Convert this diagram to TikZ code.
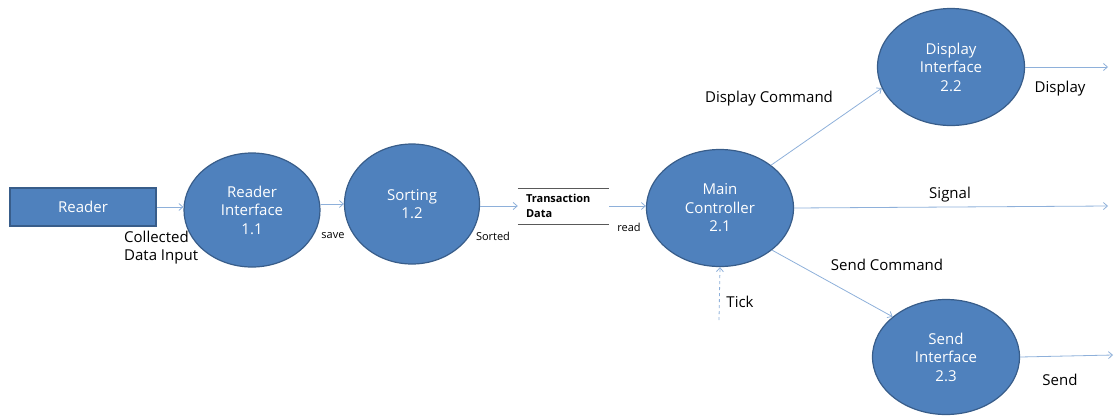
\documentclass[tikz,border=0pt]{standalone}
\usepackage{fontspec}
\setmainfont{Open Sans}
\usetikzlibrary{shapes.geometric,arrows.meta}
\definecolor{procfill}{HTML}{4F81BD}
\definecolor{procline}{HTML}{385D8A}
\definecolor{flowline}{HTML}{8EB0DA}
\tikzset{
  proc/.style={ellipse, fill=procfill, draw=procline, line width=1.2pt, inner sep=0pt,
    text=white, align=center, font=\fontsize{15}{18.5}\selectfont},
  extbox/.style={rectangle, fill=procfill, draw=procline, line width=1.2pt, inner sep=0pt,
    text=white, font=\fontsize{15}{18}\selectfont},
  flow/.style={draw=flowline, line width=0.8pt, -{Straight Barb[length=4pt,width=7pt]}},
  lbl/.style={font=\fontsize{15}{18}\selectfont, align=left, inner sep=0pt},
  small/.style={font=\fontsize{11}{13}\selectfont, inner sep=0pt}
}
\begin{document}
\begin{tikzpicture}[x=1pt, y=-1pt]
  \useasboundingbox (0,0) rectangle (1115,416);
  % external entity and processes
  \node[extbox, minimum width=146pt, minimum height=38pt] (reader) at (83,207) {Reader};
  \node[proc, minimum width=136pt, minimum height=114pt] (rif) at (252,210) {Reader\\Interface\\1.1};
  \node[proc, minimum width=135pt, minimum height=120pt] (sort) at (412,204) {Sorting\\1.2};
  \node[proc, minimum width=147pt, minimum height=117pt] (main) at (720,208) {Main\\Controller\\2.1};
  \node[proc, minimum width=147pt, minimum height=117pt] (disp) at (951,67) {Display\\Interface\\2.2};
  \node[proc, minimum width=147pt, minimum height=115pt] (send) at (946,357) {Send\\Interface\\2.3};
  % data store
  \node[inner xsep=8pt, inner ysep=0pt, text width=75pt, minimum height=36pt, align=left,
    font=\bfseries\fontsize{11}{15}\selectfont] (store) at (563.5,206) {Transaction\\Data};
  \draw[gray!70!black, line width=0.6pt] (store.north west) -- (store.north east);
  \draw[gray!70!black, line width=0.6pt] (store.south west) -- (store.south east);
  % free ends
  \coordinate (sigout) at (1108,206);
  \coordinate (dispout) at (1108,67);
  \coordinate (sendout) at (1113,355);
  \coordinate (tick) at (719,320);
  % flows
  \draw[flow] (reader.east) -- (rif.west |- reader.east);
  \draw[flow] (rif.east |- sort.west) -- (sort.west);
  \draw[flow] (sort.east |- store.west) -- (store.west);
  \draw[flow] (store.east) -- (main.west |- store.east);
  \draw[flow] (main.40) -- (disp.197);
  \draw[flow] (main.east) -- (sigout);
  \draw[flow] (main.-39) -- (send.143);
  \draw[flow] (disp.east) -- (dispout);
  \draw[flow] (send.east) -- (sendout);
  \draw[flow, dashed] (tick) -- (main.south);
  % labels
  \node[lbl, anchor=west] (collected) at (124,248) {Collected\\Data Input};
  \node[small] (save) at (333,236) {save};
  \node[small] (sorted) at (493,236) {Sorted};
  \node[small] (read) at (629,227) {read};
  \node[lbl] (dispcmd) at (769,99) {Display Command};
  \node[lbl] (signal) at (950,195) {Signal};
  \node[lbl] (sendcmd) at (887,265) {Send Command};
  \node[lbl] (ticklbl) at (740,302) {Tick};
  \node[lbl] (displbl) at (1060,89) {Display};
  \node[lbl] (sendlbl) at (1060,380) {Send};
\end{tikzpicture}
\end{document}
